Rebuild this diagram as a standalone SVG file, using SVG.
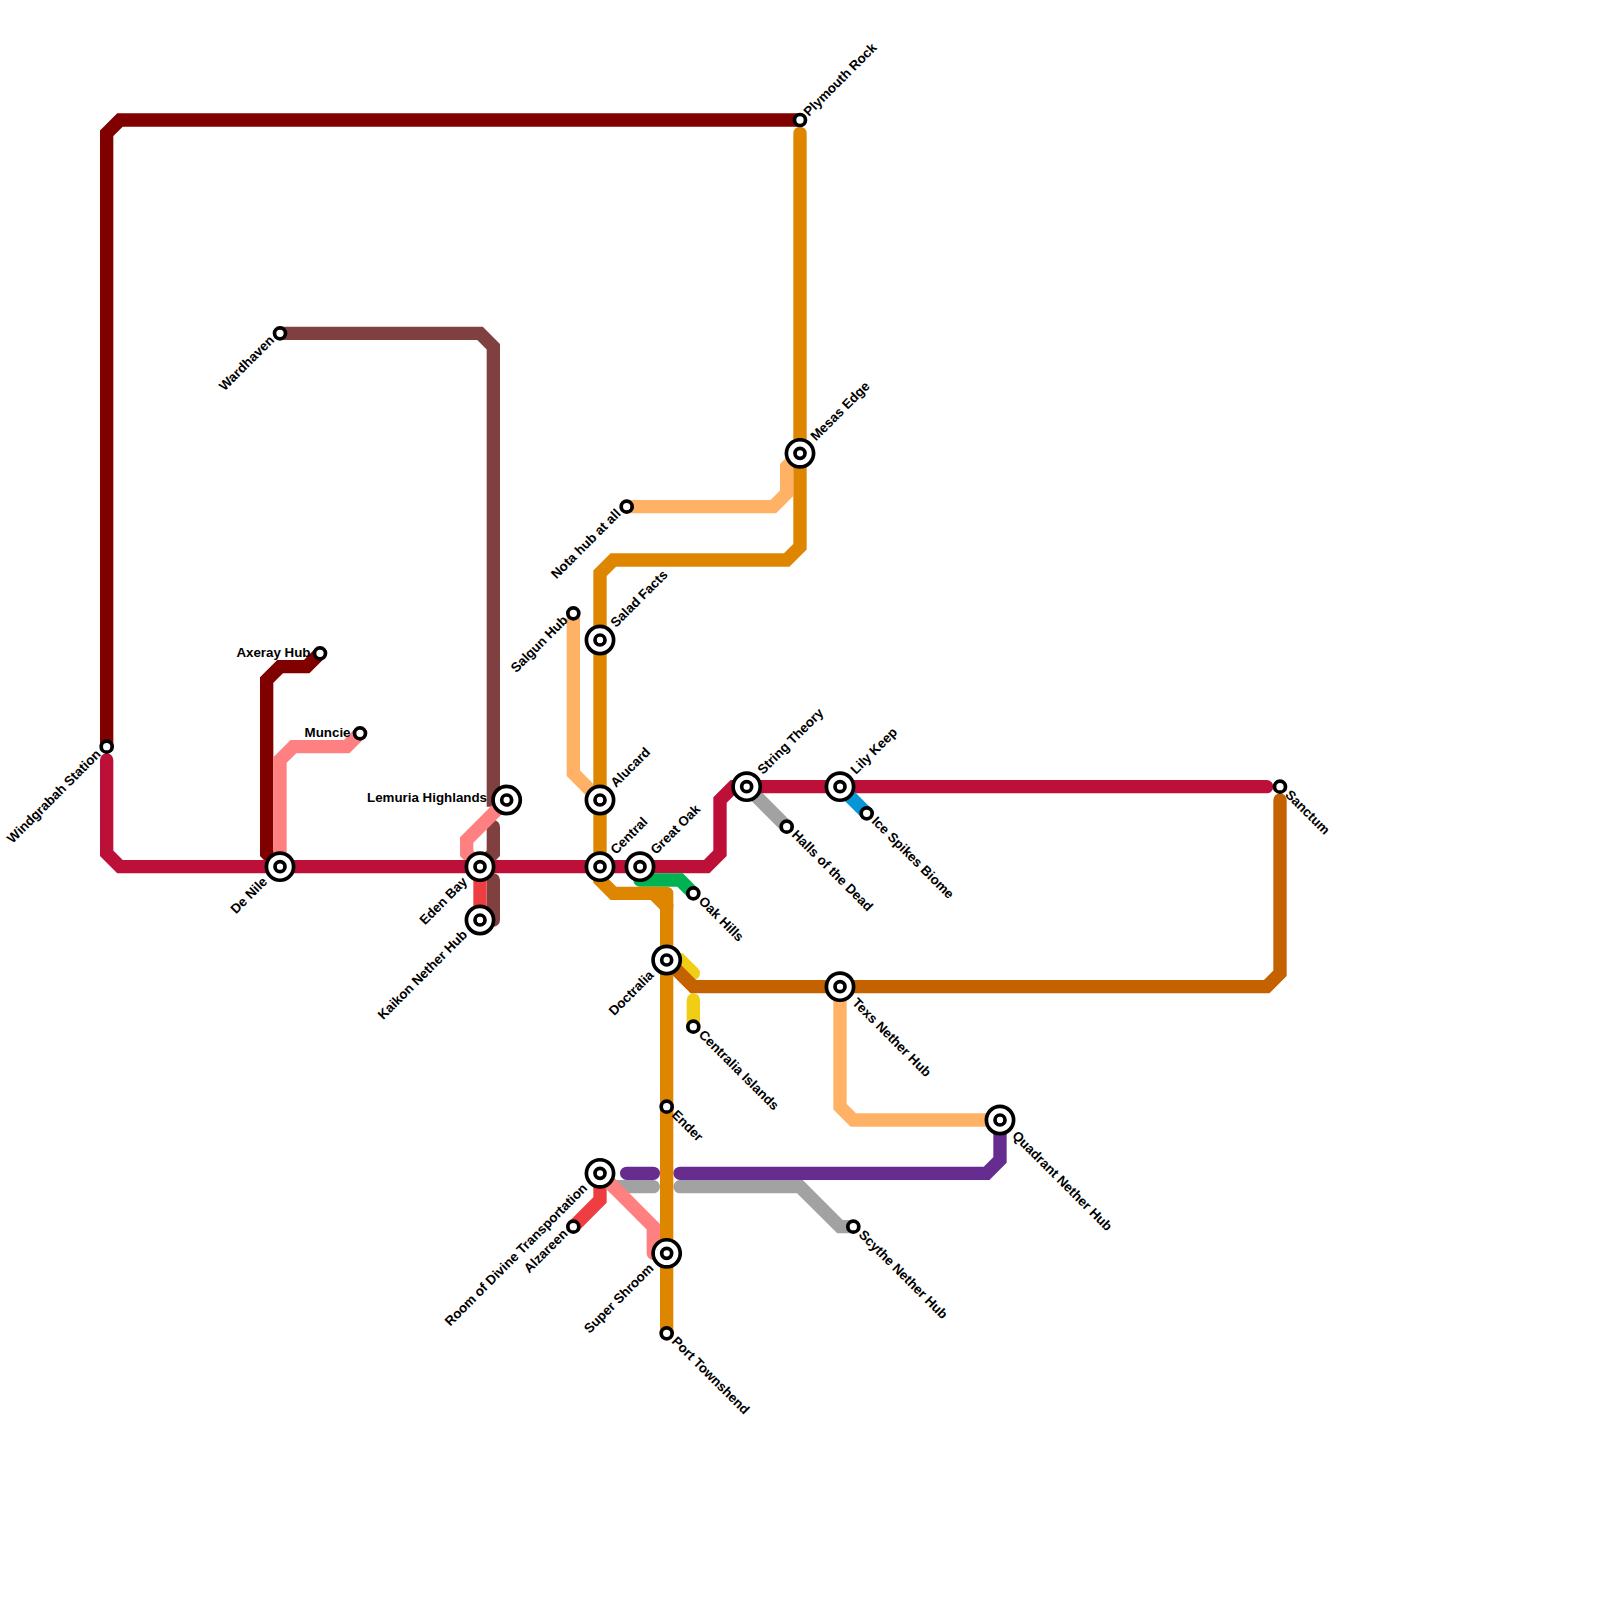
<svg xmlns="http://www.w3.org/2000/svg" width="1600" height="1600" viewBox="0 0 1600 1600">
<style>
.l{fill:none;stroke-width:1;stroke-linecap:round;stroke-linejoin:miter}
.a{stroke:#800000}.b{stroke:#804040}.c{stroke:#bd1038}.s{stroke:#ff8080}.r{stroke:#ef3e42}.o{stroke:#ffb266}.g{stroke:#df8600}.d{stroke:#c46200}.e{stroke:#00b251}.y{stroke:#f0ce15}.p{stroke:#662c90}.n{stroke:#a2a2a2}.u{stroke:#0896d7}
.k{fill:#fff;stroke:#000;stroke-width:3.7}
text{font-family:"Liberation Sans",Arial,sans-serif;font-size:13.33px;font-weight:700;fill:#000}
.e1{text-anchor:end}
</style>
<defs>
<g id="ix"><circle class="k" r="13.6"/><circle class="k" r="5"/></g>
<g id="st"><circle class="k" r="5.5"/></g>
</defs>
<g id="connectors" transform="scale(13.33333)">
<path class="l a" d="M8 56V10L9 9H60"/>
<path class="l a" d="M24 49L23 50H21L20 51V64L21 65"/>
<path class="l b" d="M21 25H36L37 26V60L38 60"/>
<path class="l b" d="M37 62V64L36 65"/>
<path class="l b" d="M37 66V69"/>
<path class="l r" d="M36 65V69"/>
<path class="l r" d="M45 88V90L43 92"/>
<path class="l n" d="M45 88L46 89H49"/>
<path class="l n" d="M51 89H60L63 92H64"/>
<path class="l n" d="M56 59L59 62"/>
<path class="l s" d="M27 55L26 56H22L21 57V65"/>
<path class="l s" d="M38 60L35 63V64L36 65"/>
<path class="l s" d="M45 88L49 92V94"/>
<path class="l c" d="M8 57V64L9 65H53L54 64V60L55 59H95"/>
<path class="l o" d="M47 38H58L59 37V35L60 34"/>
<path class="l o" d="M43 46V58L45 60"/>
<path class="l o" d="M63 74V83L64 84H75"/>
<path class="l e" d="M48 66H51L52 67"/>
<path class="l y" d="M50 72H51L52 73"/>
<path class="l y" d="M52 75V77"/>
<path class="l d" d="M50 72L52 74H95L96 73V60"/>
<path class="l p" d="M47 88H49"/>
<path class="l p" d="M51 88H74L75 87V84"/>
<path class="l u" d="M63 59L65 61"/>
<path class="l g" d="M60 10V41L59 42H46L45 43V66L46 67H49L50 68V100"/>
<path class="l g" d="M49 67H50M50 67V68"/>
</g>
<g id="n-windgrabah"><use href="#st" x="106.67" y="746.67"/><text class="e1" transform="translate(101.5,755) rotate(-45)">Windgrabah Station</text></g>
<g id="n-plymouth"><use href="#st" x="800" y="120"/><text transform="translate(809,117) rotate(-45)">Plymouth Rock</text></g>
<g id="n-wardhaven"><use href="#st" x="280" y="333.33"/><text class="e1" transform="translate(275,341) rotate(-45)">Wardhaven</text></g>
<g id="n-axeray"><use href="#st" x="320" y="653.33"/><text class="e1" transform="translate(310.5,656.5)">Axeray Hub</text></g>
<g id="n-muncie"><use href="#st" x="360" y="733.33"/><text class="e1" transform="translate(350.5,736.5)">Muncie</text></g>
<g id="n-denile"><use href="#ix" x="280" y="866.67"/><text class="e1" transform="translate(268,882.5) rotate(-45)">De Nile</text></g>
<g id="n-edenbay"><use href="#ix" x="480" y="866.67"/><text class="e1" transform="translate(468,882.5) rotate(-45)">Eden Bay</text></g>
<g id="n-kaikon"><use href="#ix" x="480" y="920"/><text class="e1" transform="translate(468,935.5) rotate(-45)">Kaikon Nether Hub</text></g>
<g id="n-lemuria"><use href="#ix" x="506.67" y="800"/><text class="e1" transform="translate(487,802)">Lemuria Highlands</text></g>
<g id="n-salgun"><use href="#st" x="573.33" y="613.33"/><text class="e1" transform="translate(568.5,621) rotate(-45)">Salgun Hub</text></g>
<g id="n-salad"><use href="#ix" x="600" y="640"/><text transform="translate(616,628) rotate(-45)">Salad Facts</text></g>
<g id="n-nota"><use href="#st" x="626.67" y="506.67"/><text class="e1" transform="translate(621.5,514.5) rotate(-45)">Nota hub at all</text></g>
<g id="n-mesas"><use href="#ix" x="800" y="453.33"/><text transform="translate(816,441.5) rotate(-45)">Mesas Edge</text></g>
<g id="n-alucard"><use href="#ix" x="600" y="800"/><text transform="translate(616,788) rotate(-45)">Alucard</text></g>
<g id="n-central"><use href="#ix" x="600" y="866.67"/><text transform="translate(616,855) rotate(-45)">Central</text></g>
<g id="n-greatoak"><use href="#ix" x="640" y="866.67"/><text transform="translate(656,855) rotate(-45)">Great Oak</text></g>
<g id="n-string"><use href="#ix" x="746.67" y="786.67"/><text transform="translate(763,775) rotate(-45)">String Theory</text></g>
<g id="n-lily"><use href="#ix" x="840" y="786.67"/><text transform="translate(856,775) rotate(-45)">Lily Keep</text></g>
<g id="n-halls"><use href="#st" x="786.67" y="826.67"/><text transform="translate(791,835.5) rotate(45)">Halls of the Dead</text></g>
<g id="n-ice"><use href="#st" x="866.67" y="813.33"/><text transform="translate(871,822) rotate(45)">Ice Spikes Biome</text></g>
<g id="n-sanctum"><use href="#st" x="1280" y="786.67"/><text transform="translate(1284.5,795.5) rotate(45)">Sanctum</text></g>
<g id="n-oak"><use href="#st" x="693.33" y="893.33"/><text transform="translate(698,902) rotate(45)">Oak Hills</text></g>
<g id="n-doctralia"><use href="#ix" x="666.67" y="960"/><text class="e1" transform="translate(654.5,976) rotate(-45)">Doctralia</text></g>
<g id="n-centralia"><use href="#st" x="693.33" y="1026.67"/><text transform="translate(698,1035.5) rotate(45)">Centralia Islands</text></g>
<g id="n-texs"><use href="#ix" x="840" y="986.67"/><text transform="translate(851.5,1003.5) rotate(45)">Texs Nether Hub</text></g>
<g id="n-quadrant"><use href="#ix" x="1000" y="1120"/><text transform="translate(1011.5,1136.5) rotate(45)">Quadrant Nether Hub</text></g>
<g id="n-ender"><use href="#st" x="666.67" y="1106.67"/><text transform="translate(671,1115.5) rotate(45)">Ender</text></g>
<g id="n-room"><use href="#ix" x="600" y="1173.33"/><text class="e1" transform="translate(588,1189) rotate(-45)">Room of Divine Transportation</text></g>
<g id="n-alzareen"><use href="#st" x="573.33" y="1226.67"/><text class="e1" transform="translate(568.5,1234.5) rotate(-45)">Alzareen</text></g>
<g id="n-super"><use href="#ix" x="666.67" y="1253.33"/><text class="e1" transform="translate(654.5,1269) rotate(-45)">Super Shroom</text></g>
<g id="n-port"><use href="#st" x="666.67" y="1333.33"/><text transform="translate(671,1342) rotate(45)">Port Townshend</text></g>
<g id="n-scythe"><use href="#st" x="853.33" y="1226.67"/><text transform="translate(858,1235.5) rotate(45)">Scythe Nether Hub</text></g>
</svg>
